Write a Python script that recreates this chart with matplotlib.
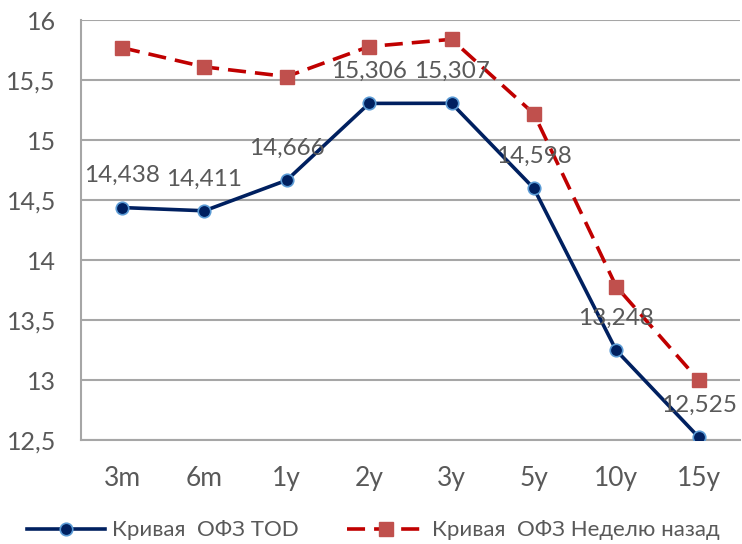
import matplotlib
matplotlib.use("Agg")
import matplotlib.pyplot as plt
from matplotlib.ticker import FuncFormatter

TENORS = ["3m", "6m", "1y", "2y", "3y", "5y", "10y", "15y"]
OFZ_TOD = [14.438, 14.411, 14.666, 15.306, 15.307, 14.598, 13.248, 12.525]
OFZ_WEEK_AGO = [15.77, 15.61, 15.53, 15.78, 15.84, 15.22, 13.78, 13.00]

GRID = "#A6A6A6"
TEXT = "#595959"
NAVY = "#002060"
RED_LINE = "#C00000"
RED_MARK = "#C0504D"

plt.rcParams["font.family"] = ["Lato", "DejaVu Sans"]

fig = plt.figure(figsize=(7.42, 5.44), dpi=100)
ax = fig.add_axes([0.109, 0.191, 0.888, 0.772])

x = list(range(len(TENORS)))
ax.plot(x, OFZ_TOD, color=NAVY, linewidth=2.6, marker="o", markersize=9,
        markerfacecolor=NAVY, markeredgecolor="#5B9BD5", markeredgewidth=1.2,
        label="Кривая  ОФЗ TOD", zorder=3)
ax.plot(x, OFZ_WEEK_AGO, color=RED_LINE, linewidth=2.6, linestyle=(0, (5, 2.5)),
        marker="s", markersize=10, markerfacecolor=RED_MARK, markeredgecolor=RED_MARK,
        label="Кривая  ОФЗ Неделю назад", zorder=3)

for xi, v in zip(x, OFZ_TOD):
    ax.annotate(f"{v:.3f}".replace(".", ","), (xi, v), xytext=(0, 23),
                textcoords="offset points", ha="center", va="center",
                fontsize=17.5, color=TEXT, zorder=4)

ax.set_xlim(-0.5, len(TENORS) - 0.5)
ax.set_ylim(12.5, 16)
ax.set_yticks([12.5, 13, 13.5, 14, 14.5, 15, 15.5, 16])
ax.yaxis.set_major_formatter(FuncFormatter(lambda v, p: f"{v:g}".replace(".", ",")))
ax.set_xticks(x)
ax.set_xticklabels(TENORS)
ax.tick_params(axis="y", length=0, labelsize=18, colors=TEXT, pad=18)
ax.tick_params(axis="x", length=0, labelsize=19, colors=TEXT, pad=19)

ax.grid(axis="y", color=GRID, linewidth=1.5)
ax.set_axisbelow(True)
for side in ["top", "right"]:
    ax.spines[side].set_visible(False)
ax.spines["left"].set_color(GRID)
ax.spines["left"].set_linewidth(1.5)
ax.spines["bottom"].set_color(GRID)
ax.spines["bottom"].set_linewidth(1.5)

leg = fig.legend(loc="lower center", bbox_to_anchor=(0.503, -0.03), ncol=2,
                 frameon=False, fontsize=16, handlelength=3.5, columnspacing=2.2,
                 handletextpad=0.3)
for t in leg.get_texts():
    t.set_color(TEXT)

fig.savefig("out.png", dpi=100)
